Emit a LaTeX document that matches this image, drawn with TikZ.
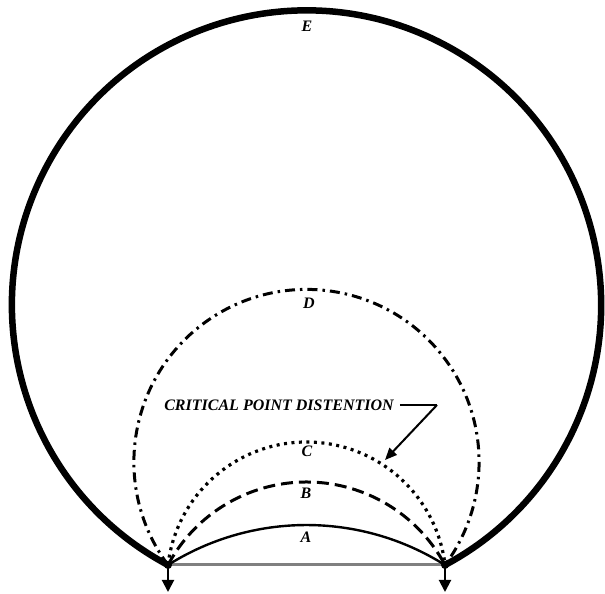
\documentclass[tikz,border=0pt]{standalone}
\usepackage{fontspec}
\setmainfont{Liberation Serif}
\usetikzlibrary{arrows.meta}
\tikzset{
  lbl/.style={font=\bfseries\itshape\fontsize{16}{16}\selectfont, inner sep=0pt},
  curveE/.style={line width=6.5pt, black},
  curveD/.style={line width=3pt, dash pattern=on 10pt off 5pt on 2.5pt off 5pt},
  curveC/.style={line width=3.2pt, dash pattern=on 3pt off 4.5pt},
  curveB/.style={line width=3pt, dash pattern=on 12pt off 6pt},
  curveA/.style={line width=2.4pt},
  load/.style={line width=2pt, -{Triangle[width=12pt,length=12pt]}},
}
\begin{document}
\begin{tikzpicture}[x=1pt,y=1pt]
\useasboundingbox (0,0) rectangle (605,594);
\coordinate (L) at (168,29);
\coordinate (R) at (445,29);
\coordinate (Ld) at (168,2);
\coordinate (Rd) at (445,2);
% base line
\draw[line width=3pt, color=black!50] (L) -- (R);
% E
\draw[curveE] (L) arc[start angle=241.95, end angle=-61.95, radius=294.6];
% D
\draw[curveD] (L) arc[start angle=216.64, end angle=-36.64, radius=172.6];
% C
\draw[curveC] (L) arc[start angle=173.2, end angle=6.8, radius=139.5];
% B
\draw[curveB] (L) arc[start angle=151.85, end angle=28.15, radius=157.1];
% A
\draw[curveA] (L) arc[start angle=122.21, end angle=57.79, radius=259.8];
% supports
\fill (L) circle[radius=4];
\fill (R) circle[radius=4];
\draw[load] (L) -- (Ld);
\draw[load] (R) -- (Rd);
% labels
\node[lbl] (E) at (307,568) {E};
\node[lbl] (D) at (309,291) {D};
\node[lbl] (C) at (307,143) {C};
\node[lbl] (B) at (306,101) {B};
\node[lbl] (A) at (306,57) {A};
\node[lbl] (cp) at (279,189) {CRITICAL POINT DISTENTION};
\coordinate (k1) at (437,189);
\coordinate (tip) at (385,134);
\draw[line width=2pt] ([xshift=6pt]cp.east) -- (k1);
\draw[line width=2pt, -{Triangle[width=10pt,length=12pt]}] (k1) -- (tip);
\end{tikzpicture}
\end{document}
